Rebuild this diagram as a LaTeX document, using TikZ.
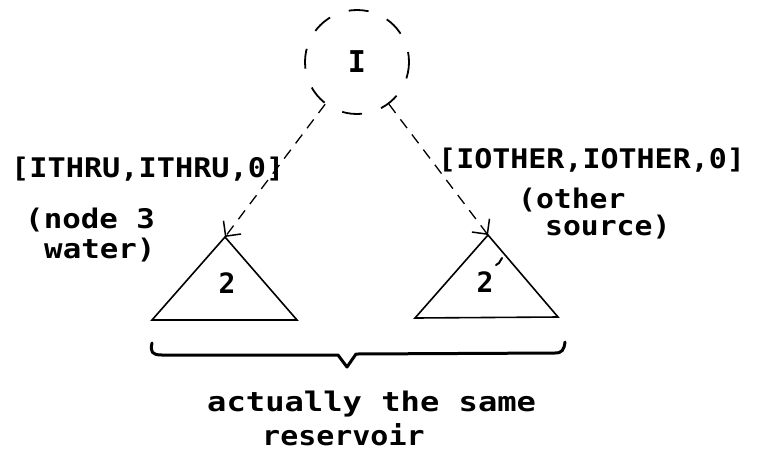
\documentclass[tikz,border=0pt]{standalone}
\usepackage{fontspec}
\setmonofont{DejaVu Sans Mono}
\usetikzlibrary{arrows.meta}
\begin{document}
\begin{tikzpicture}[x=1pt,y=-1pt,
  lbl/.style={font=\ttfamily\bfseries\fontsize{27}{29}\selectfont, inner sep=0pt, anchor=base west},
  num/.style={font=\ttfamily\bfseries\fontsize{28}{30}\selectfont, inner sep=0pt},
  tri/.style={line width=1.6pt, line join=miter},
  conn/.style={line width=1.3pt, dash pattern=on 11pt off 8pt,
    -{Straight Barb[length=11pt,width=22pt,line width=1.5pt]}},
  bracestyle/.style={line width=3pt, line cap=round, line join=round}]
\useasboundingbox (0,0) rectangle (767,451);

% root circle
\node[circle, draw, line width=1.8pt, minimum size=104pt, inner sep=0pt,
      dash pattern=on 20pt off 20pt, dash phase=10pt,
      font=\ttfamily\bfseries\fontsize{30}{32}\selectfont] (I) at (357,62) {I};

% triangle apexes
\coordinate (apexL) at (225,237);
\coordinate (apexR) at (488,235);
\coordinate (blL) at (152,320);
\coordinate (brL) at (297,320);
\coordinate (blR) at (415,318);
\coordinate (brR) at (558,317);

% triangles
\draw[tri] (apexL) -- (blL) -- (brL) -- cycle;
\draw[tri] (apexR) -- (blR) -- (brR) -- cycle;
\node[num] (twoL) at (227,283) {2};
\node[num] (twoR) at (485,282) {2};
% small tick on right triangle
\draw[line width=2pt, line cap=round] (502,258) -- (499,263) -- (496,265);

% connectors
\draw[conn] (I) -- (apexL);
\draw[conn] (I) -- (apexR);

% labels
\node[lbl, xscale=1.12] (lblL) at (11,177) {[ITHRU,ITHRU,0]};
\node[lbl, xscale=1.11] (lblR) at (438,168) {[IOTHER,IOTHER,0]};
\node[lbl, xscale=1.14] (node3) at (25,228) {(node 3};
\node[lbl, xscale=1.14] (water) at (44,258) {water)};
\node[lbl, xscale=1.1] (other) at (518,208) {(other};
\node[lbl, xscale=1.1] (source) at (545,235) {source)};

% brace
\coordinate (bL) at (152,343);
\coordinate (bR) at (565,342);
\coordinate (bTip) at (347,367);
\draw[bracestyle] (bL) .. controls (150,352) and (152,355) .. (162,355)
  -- (338,355) -- (bTip) -- (356,354) -- (555,353)
  .. controls (562,353) and (564,350) .. (bR);

% bottom text
\node[lbl, xscale=1.19] (actually) at (207,411) {actually the same};
\node[lbl, xscale=1.11] (reservoir) at (262,445) {reservoir};
\end{tikzpicture}
\end{document}
